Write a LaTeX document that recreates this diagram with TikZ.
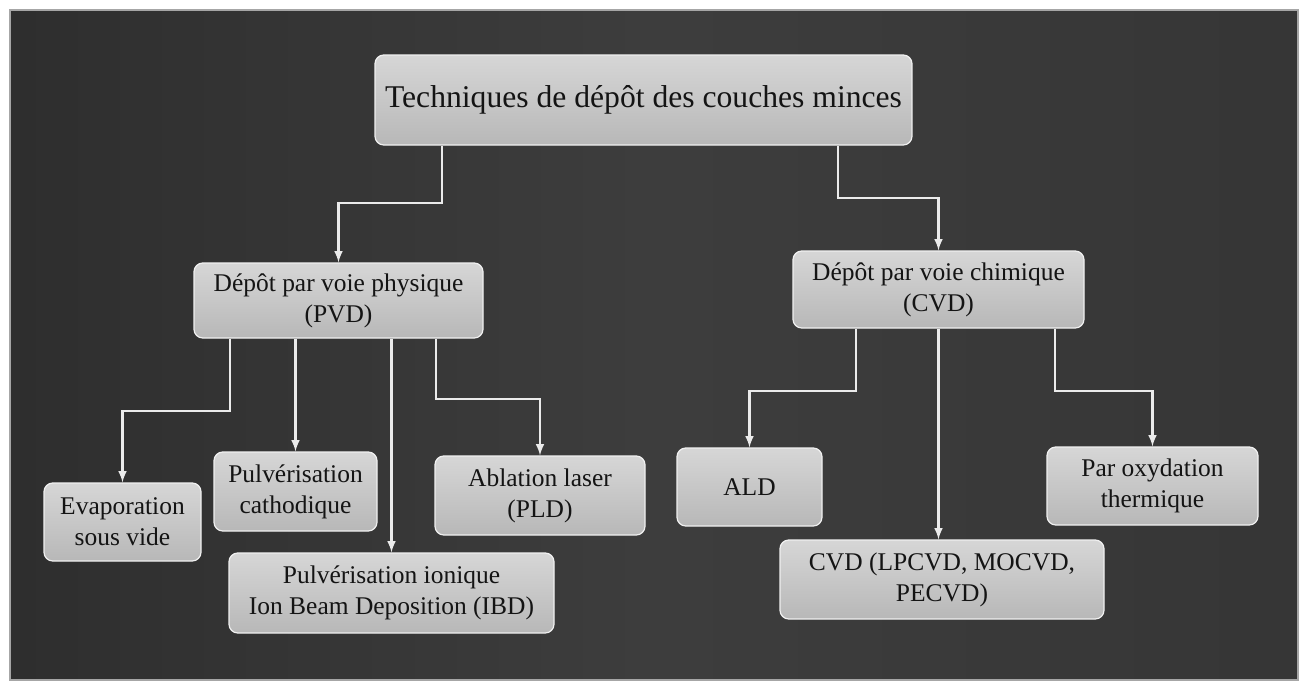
\documentclass[tikz,border=0pt]{standalone}
\usepackage{fontspec}
\setmainfont{Liberation Serif}

\begin{document}
\begin{tikzpicture}[>=latex,
    box/.style={draw=black!6, line width=0.7pt, rounded corners=5pt,
        top color=black!16, bottom color=black!28, align=center,
        text=black!92, inner sep=2pt,
        font=\fontsize{14.5}{17.5}\selectfont},
    conn/.style={->, draw=black!8, line width=1.2pt}]
\useasboundingbox (0,0) rectangle (26.12,-13.7);
\fill [white] (0,0) rectangle (26.12,-13.7);
\shade [left color=black!82, right color=black!79, middle color=black!76]
    (0.2,-0.2) rectangle (25.96,-13.6);
\draw [black!35, line width=0.6pt] (0.2,-0.2) rectangle (25.96,-13.6);

\node [box,minimum width=10.74cm,minimum height=1.8cm,
       font=\fontsize{18}{21}\selectfont]          (top)   at (12.87, -2.00) {Techniques de dépôt des couches minces};
\node [box,minimum width=5.78cm,minimum height=1.5cm]  (pvd)   at ( 6.77, -6.01) {Dépôt par voie physique\\ (PVD)};
\node [box,minimum width=5.82cm,minimum height=1.54cm] (cvd)   at (18.77, -5.79) {Dépôt par voie chimique\\ (CVD)};
\node [box,minimum width=3.14cm,minimum height=1.56cm] (evap)  at ( 2.45,-10.44) {Evaporation\\ sous vide};
\node [box,minimum width=3.26cm,minimum height=1.58cm] (cath)  at ( 5.91, -9.83) {Pulvérisation\\ cathodique};
\node [box,minimum width=4.2cm,minimum height=1.58cm]  (pld)   at (10.80, -9.91) {Ablation laser\\ (PLD)};
\node [box,minimum width=6.5cm,minimum height=1.6cm]   (ibd)   at ( 7.83,-11.86) {Pulvérisation ionique\\ Ion Beam Deposition (IBD)};
\node [box,minimum width=2.9cm,minimum height=1.56cm]  (ald)   at (14.99, -9.74) {ALD};
\node [box,minimum width=6.48cm,minimum height=1.58cm] (lpcvd) at (18.84,-11.59) {CVD (LPCVD, MOCVD,\\ PECVD)};
\node [box,minimum width=4.22cm,minimum height=1.56cm] (oxy)   at (23.05, -9.72) {Par oxydation\\ thermique};

% top level
\draw [conn] ([xshift=-4.03cm]top.south) -- ++(0,-1.14) -| (pvd.north);
\draw [conn] ([xshift=3.89cm]top.south) -- ++(0,-1.04) -| (cvd.north);

% physical routes
\draw [conn] ([xshift=-2.17cm]pvd.south) -- ++(0,-1.44) -| (evap.north);
\draw [conn] (pvd.south -| cath.north) -- (cath.north);
\draw [conn] (pvd.south -| ibd.north) -- (ibd.north);
\draw [conn] ([xshift=1.95cm]pvd.south) -- ++(0,-1.2) -| (pld.north);

% chemical routes
\draw [conn] ([xshift=-1.65cm]cvd.south) -- ++(0,-1.24) -| (ald.north);
\draw [conn] (cvd.south) -- (cvd.south |- lpcvd.north);
\draw [conn] ([xshift=2.33cm]cvd.south) -- ++(0,-1.24) -| (oxy.north);
\end{tikzpicture}
\end{document}
